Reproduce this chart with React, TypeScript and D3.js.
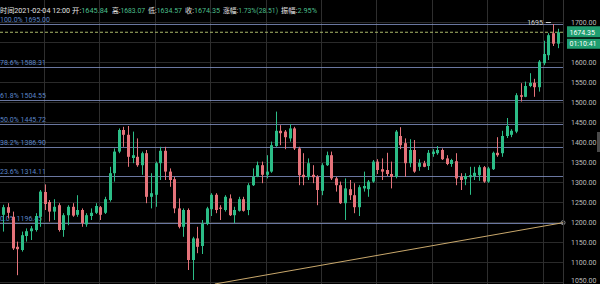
import React from "react";
import * as d3 from "d3";

// ---- data ----
const opens = [1218,1237,1213,1138,1130,1165,1177,1180,1213,1275,1250,1226,1242,1180,1217,1238,1218,1230,1194,1215,1223,1237,1223,1255,1322,1376,1430,1418,1360,1363,1342,1372,1263,1268,1347,1378,1326,1307,1234,1188,1230,1105,1159,1140,1195,1232,1268,1236,1230,1259,1217,1228,1257,1230,1292,1313,1342,1318,1326,1390,1428,1426,1409,1434,1384,1318,1312,1318,1313,1278,1342,1367,1309,1292,1247,1282,1267,1237,1284,1282,1301,1351,1332,1330,1320,1313,1415,1397,1347,1380,1338,1347,1340,1370,1372,1380,1359,1345,1352,1313,1307,1312,1315,1317,1337,1301,1332,1373,1372,1415,1418,1426,1517,1513,1540,1548,1537,1597,1617,1672,1645.84];
const highs = [1243,1247,1226,1151,1176,1184,1190,1222,1280,1294,1255,1257,1247,1222,1242,1247,1267,1234,1222,1234,1247,1240,1263,1338,1384,1434,1438,1440,1426,1409,1376,1380,1322,1351,1388,1388,1334,1313,1259,1234,1234,1163,1188,1205,1238,1272,1272,1242,1267,1269,1238,1263,1263,1297,1334,1351,1351,1367,1401,1476,1442,1430,1445,1438,1388,1372,1359,1342,1317,1347,1376,1376,1313,1301,1309,1305,1297,1292,1326,1305,1355,1357,1359,1373,1351,1430,1437,1409,1407,1405,1357,1353,1380,1382,1390,1384,1367,1358,1372,1322,1322,1338,1338,1342,1340,1338,1376,1412,1428,1460,1432,1522,1547,1551,1572,1558,1605,1653,1672,1695,1683.07];
const lows = [1176,1209,1130,1067,1126,1151,1155,1176,1188,1230,1201,1205,1176,1163,1192,1213,1213,1188,1188,1205,1220,1205,1220,1251,1301,1372,1388,1338,1347,1338,1318,1247,1234,1238,1305,1305,1288,1222,1184,1163,1080,1055,1122,1120,1192,1215,1222,1205,1226,1215,1197,1226,1226,1217,1290,1312,1297,1309,1323,1388,1392,1382,1401,1380,1292,1292,1305,1297,1242,1267,1340,1305,1276,1245,1205,1255,1222,1215,1276,1263,1298,1320,1305,1315,1284,1309,1382,1313,1337,1323,1328,1337,1330,1363,1368,1355,1342,1338,1292,1280,1292,1268,1305,1303,1298,1298,1330,1363,1363,1410,1412,1422,1501,1512,1537,1513,1526,1592,1605,1640,1634.57];
const closes = [1237,1223,1134,1132,1167,1177,1184,1215,1276,1245,1226,1238,1180,1217,1238,1216,1230,1197,1217,1223,1240,1218,1257,1322,1376,1430,1418,1363,1367,1342,1372,1263,1272,1347,1378,1326,1305,1234,1188,1230,1105,1159,1138,1196,1234,1268,1230,1233,1263,1217,1230,1257,1228,1292,1313,1342,1318,1326,1392,1428,1422,1412,1434,1384,1317,1312,1347,1312,1280,1342,1367,1309,1292,1247,1284,1267,1237,1287,1290,1301,1351,1330,1326,1320,1313,1426,1392,1347,1380,1326,1348,1338,1373,1376,1380,1357,1345,1355,1309,1305,1315,1317,1323,1337,1301,1334,1373,1367,1415,1440,1428,1517,1513,1540,1548,1537,1601,1620,1667,1645.84,1674.35];

const priceTicks = [1050,1100,1150,1200,1250,1300,1350,1400,1450,1500,1550,1600,1650,1700];
const timeGridIdx = [8.8,20.8,32.8,44.8,56.8,68.8,80.8,92.8,104.8,116.8];
const fibRatios = [1, 0.786, 0.618, 0.5, 0.382, 0.236, 0];
const fibLow = 1196.45;
const fibHigh = 1695;
const trendIdx = [45.8, 121.2];
const trendVal = [1045, 1198.3];

const headerTime = "2021-02-04 12:00";
const headerLabels = ["开:", "高:", "低:", "收:", "涨幅:", "振幅:"];
const headerValues = ["1645.84", "1683.07", "1634.57", "1674.35", "1.73%(28.51)", "2.95%"];
const countdown = "01:10:41";

const W = 600, H = 284, PR = 563;
const GREEN = "#2cbd87", RED = "#e5737a";
const FONT = "Roboto, 'Noto Sans CJK SC', sans-serif";

export default function App() {
  const n = closes.length;
  const x = d3.scaleLinear().domain([0, 120]).range([3.3, 557.5]);
  const y = d3.scaleLinear().domain([1045, 1755]).range([H, 0]);
  const last = closes[n - 1];
  const yLast = y(last);
  // header segment layout
  const headerX = [72, 112, 148, 185, 223, 281];
  const headerW = [36, 33, 34, 35, 55, 36];
  const line = d3.line<number>().x((d, i) => x(trendIdx[i])).y((d) => y(d));
  const hiIdx = highs.indexOf(d3.max(highs) as number);
  const boxTop = yLast - 6, boxBottom = yLast + 16.5;
  return (
    <div style={{ position: "fixed", left: 0, top: 0 }}>
      <svg width={W} height={H} style={{ display: "block", background: "#000" }} fontFamily={FONT}>
        <rect width={W} height={H} fill="#000" />
        {priceTicks.map((t) => (
          <line key={"h" + t} x1={0} x2={PR} y1={Math.round(y(t)) + 0.5} y2={Math.round(y(t)) + 0.5} stroke="#2a2a2a" />
        ))}
        {timeGridIdx.map((g) => (
          <line key={"v" + g} x1={Math.round(x(g)) + 0.5} x2={Math.round(x(g)) + 0.5} y1={0} y2={H} stroke="#2e2e2e" />
        ))}
        {fibRatios.map((r) => {
          const v = fibLow + r * (fibHigh - fibLow);
          const yy = Math.round(y(v)) + 0.5;
          return (
            <g key={"f" + r}>
              <line x1={0} x2={PR} y1={yy} y2={yy} stroke="#8595c8" strokeOpacity={0.8} />
              <text x={0} y={yy - 3} fontSize={7} fill="#5b84c6">{(r * 100).toFixed(1) + "% " + v.toFixed(2)}</text>
            </g>
          );
        })}
        <path d={line(trendVal) || ""} stroke="#c9a86c" strokeWidth={1} fill="none" />
        <circle cx={x(trendIdx[1])} cy={y(trendVal[1])} r={2} fill="none" stroke="#8a8a8a" />
        <line x1={0} x2={PR} y1={yLast} y2={yLast} stroke="#a9b86b" strokeDasharray="3,2" />
        {closes.map((c, i) => {
          const o = opens[i];
          const up = c >= o;
          const col = up ? GREEN : RED;
          const cx = Math.round(x(i)) + 0.5;
          const top = y(Math.max(o, c));
          const bh = Math.max(1, y(Math.min(o, c)) - top);
          return (
            <g key={"c" + i}>
              <line x1={cx} x2={cx} y1={y(highs[i])} y2={y(lows[i])} stroke={col} />
              <rect x={cx - 1.5} y={top} width={3} height={bh} fill={col} />
            </g>
          );
        })}
        <text x={x(hiIdx) - 10} y={y(fibHigh) + 1} fontSize={7} fill="#cfcfcf" textAnchor="end">{fibHigh.toFixed(0)}</text>
        <line x1={x(hiIdx) - 7} x2={x(hiIdx) - 2} y1={y(fibHigh) - 1.5} y2={y(fibHigh) - 1.5} stroke="#cfcfcf" />
        <line x1={PR + 0.5} x2={PR + 0.5} y1={0} y2={H} stroke="#333" />
        {priceTicks
          .filter((t) => y(t) + 3 < boxTop || y(t) - 3 > boxBottom)
          .map((t) => (
            <text key={"l" + t} x={571} y={Math.min(y(t) + 2.5, H - 1)} fontSize={7} fill="#bdbdbd">{t.toFixed(2)}</text>
          ))}
        <rect x={567} y={yLast - 6} width={33} height={11} fill="#1f9e70" />
        <text x={569.5} y={yLast + 2.5} fontSize={7} fill="#fff">{last.toFixed(2)}</text>
        <rect x={567} y={yLast + 6.5} width={33} height={10} fill="#1f9e70" />
        <text x={569.5} y={yLast + 14} fontSize={7} fill="#fff">{countdown}</text>
        <rect x={597} y={132} width={3} height={20} fill="#4a4a4a" />
        <text x={0} y={13} fontSize={7} fill="#e4e4e4" textLength={70} lengthAdjust="spacingAndGlyphs">{"时间" + headerTime}</text>
        {headerLabels.map((l, i) => (
          <text key={"hd" + i} x={headerX[i]} y={13} fontSize={7} textLength={headerW[i]} lengthAdjust="spacingAndGlyphs">
            <tspan fill="#e4e4e4">{l}</tspan>
            <tspan fill="#4cbf8c">{headerValues[i]}</tspan>
          </text>
        ))}
      </svg>
    </div>
  );
}
